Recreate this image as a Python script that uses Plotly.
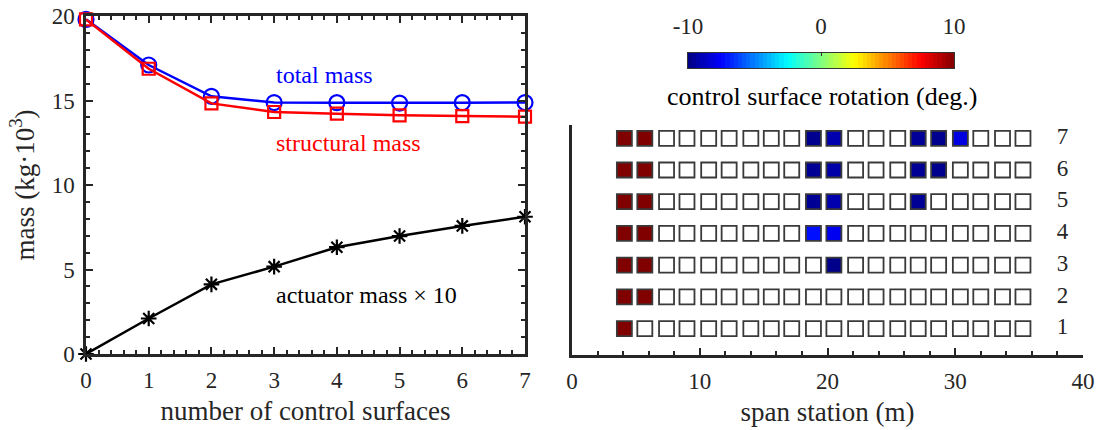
import numpy as np
import plotly.graph_objects as go

# ---------------- data ----------------
n_surfaces = [0, 1, 2, 3, 4, 5, 6, 7]
total_mass = [19.8, 17.1, 15.25, 14.88, 14.87, 14.85, 14.87, 14.88]
structural_mass = [19.8, 16.88, 14.83, 14.32, 14.22, 14.12, 14.08, 14.04]
actuator_mass_x10 = [0.0, 2.1, 4.12, 5.17, 6.32, 6.98, 7.58, 8.12]

span_stations = [4.1, 5.7, 7.4, 9.0, 10.7, 12.3, 14.0, 15.6, 17.2, 18.9,
                 20.5, 22.2, 23.8, 25.5, 27.1, 28.7, 30.4, 32.0, 33.7, 35.3]
rows = [1, 2, 3, 4, 5, 6, 7]
# control surface rotation (deg.) per row; None = no control surface
N = None
rotation = {
    1: [10, N, N, N, N, N, N, N, N, N, N, N, N, N, N, N, N, N, N, N],
    2: [10, 10, N, N, N, N, N, N, N, N, N, N, N, N, N, N, N, N, N, N],
    3: [10, 10, N, N, N, N, N, N, N, N, -9.8, N, N, N, N, N, N, N, N, N],
    4: [10, 10, N, N, N, N, N, N, N, -7.2, -7.8, N, N, N, N, N, N, N, N, N],
    5: [10, 10, N, N, N, N, N, N, N, -9.6, -9.1, N, N, N, -9.6, N, N, N, N, N],
    6: [10, 10, N, N, N, N, N, N, N, -9.6, -9.2, N, N, N, -9.6, -9.7, N, N, N, N],
    7: [10, 10, N, N, N, N, N, N, N, -9.7, -9.1, N, N, N, -9.5, -9.7, -8.1, N, N, N],
}
cbar_ticks = [-10, 0, 10]
CMIN, CMAX = -10, 10

jet = [[0.0, '#000080'], [0.125, '#0000ff'], [0.375, '#00ffff'],
       [0.625, '#ffff00'], [0.875, '#ff0000'], [1.0, '#800000']]

FONT = '"Liberation Serif", "Times New Roman", "DejaVu Serif", serif'
AX = '#262626'

fig = go.Figure()

# ---------------- left panel ----------------
fig.add_trace(go.Scatter(
    x=n_surfaces, y=total_mass, mode='lines+markers', cliponaxis=False,
    line=dict(color='#0000ff', width=2.5),
    marker=dict(symbol='circle-open', size=15, color='#0000ff', line=dict(width=2.2)),
    xaxis='x', yaxis='y', showlegend=False))
fig.add_trace(go.Scatter(
    x=n_surfaces, y=structural_mass, mode='lines+markers', cliponaxis=False,
    line=dict(color='#ff0000', width=2.5),
    marker=dict(symbol='square-open', size=12, color='#ff0000', line=dict(width=2.2)),
    xaxis='x', yaxis='y', showlegend=False))
fig.add_trace(go.Scatter(
    x=n_surfaces, y=actuator_mass_x10, mode='lines+markers', cliponaxis=False,
    line=dict(color='#000000', width=2.5),
    marker=dict(symbol='asterisk-open', size=13, color='#000000', line=dict(width=2.2, color='#000000')),
    xaxis='x', yaxis='y', showlegend=False))

# ---------------- right panel ----------------
ex, ey, cx, cy, cv = [], [], [], [], []
for r in rows:
    for s, v in zip(span_stations, rotation[r]):
        if v is None:
            ex.append(s); ey.append(r)
        else:
            cx.append(s); cy.append(r); cv.append(v)

fig.add_trace(go.Scatter(
    x=ex, y=ey, mode='markers', cliponaxis=False,
    marker=dict(symbol='square', size=15, color='white', line=dict(color='#3a3a3a', width=1.8)),
    xaxis='x2', yaxis='y2', showlegend=False, hoverinfo='skip'))
fig.add_trace(go.Scatter(
    x=cx, y=cy, mode='markers', cliponaxis=False,
    marker=dict(symbol='square', size=15, color=cv, colorscale=jet, cmin=CMIN, cmax=CMAX,
                showscale=False, line=dict(color='#3a3a3a', width=1.8)),
    xaxis='x2', yaxis='y2', showlegend=False))
fig.add_trace(go.Scatter(
    x=[38.4] * len(rows), y=rows, mode='text', text=[str(r) for r in rows],
    textfont=dict(family=FONT, size=23, color='#262626'), cliponaxis=False,
    xaxis='x2', yaxis='y2', showlegend=False, hoverinfo='skip'))

# ---------------- colour bar ----------------
ncol = 64
edges = np.linspace(CMIN, CMAX, ncol + 1)
centers = (edges[:-1] + edges[1:]) / 2
fig.add_trace(go.Heatmap(
    z=[centers.tolist()], x=centers.tolist(), y=[0], colorscale=jet, zmin=CMIN, zmax=CMAX,
    showscale=False, xaxis='x3', yaxis='y3', hoverinfo='skip'))

tickfont = dict(family=FONT, size=23, color='#262626')
titlefont = dict(family=FONT, size=27, color='#262626')

fig.update_layout(
    width=1097, height=430,
    margin=dict(l=0, r=0, t=0, b=0, autoexpand=False),
    paper_bgcolor='white', plot_bgcolor='white',
    font=dict(family=FONT, color='#262626'),
    xaxis=dict(domain=[86 / 1097, 525 / 1097], anchor='y', range=[0, 7], dtick=1, automargin=False,
               showgrid=False, zeroline=False, showline=True, linecolor=AX, linewidth=2.5,
               mirror='allticks', ticks='inside', ticklen=7, tickwidth=2, tickcolor=AX,
               minor=dict(ticks='inside', ticklen=4, dtick=0.2, tickwidth=2, tickcolor=AX, showgrid=False),
               tickfont=tickfont, ticklabelstandoff=4,
               title=dict(text='number of control surfaces', font=titlefont, standoff=9)),
    yaxis=dict(domain=[(430 - 354) / 430, (430 - 16) / 430], anchor='x', range=[0, 20], dtick=5,
               automargin=False,
               showgrid=False, zeroline=False, showline=True, linecolor=AX, linewidth=2.5,
               mirror='allticks', ticks='inside', ticklen=7, tickwidth=2, tickcolor=AX,
               minor=dict(ticks='inside', ticklen=4, dtick=1, tickwidth=2, tickcolor=AX, showgrid=False),
               tickfont=tickfont, ticklabelstandoff=4,
               title=dict(text='mass (kg·10<sup>3</sup>)', font=titlefont, standoff=10)),
    xaxis2=dict(domain=[572 / 1097, 1083 / 1097], anchor='y2', range=[0, 40], dtick=10, automargin=False,
                showgrid=False, zeroline=False, showline=True, linecolor=AX, linewidth=2.5,
                ticks='inside', ticklen=7, tickwidth=2, tickcolor=AX,
                minor=dict(ticks='inside', ticklen=4, dtick=2, tickwidth=2, tickcolor=AX, showgrid=False),
                tickfont=tickfont, ticklabelstandoff=4,
                title=dict(text='span station (m)', font=titlefont, standoff=9)),
    yaxis2=dict(domain=[(430 - 355) / 430, (430 - 125) / 430], anchor='x2', range=[0.165, 7.42],
                automargin=False,
                showgrid=False, zeroline=False, showline=True, linecolor=AX, linewidth=2.5,
                ticks='', showticklabels=False),
    xaxis3=dict(domain=[688 / 1097, 954 / 1097], anchor='y3', range=[CMIN, CMAX], side='top',
                automargin=False,
                tickvals=cbar_ticks, ticktext=[str(t) for t in cbar_ticks],
                showgrid=False, zeroline=False, showline=True, mirror=True, linecolor='#333333', linewidth=1,
                ticks='inside', ticklen=3, tickcolor='#333333',
                tickfont=dict(family=FONT, size=23, color='#262626'), ticklabelstandoff=9),
    yaxis3=dict(domain=[(430 - 68) / 430, (430 - 53) / 430], anchor='x3', range=[-0.5, 0.5],
                automargin=False,
                showgrid=False, zeroline=False, showline=True, mirror=True, linecolor='#333333', linewidth=1,
                ticks='', showticklabels=False),
    annotations=[
        dict(text='total mass', x=3.0, y=16.5, xref='x', yref='y', xanchor='left', yanchor='middle',
             showarrow=False, font=dict(family=FONT, size=24, color='#0000ff')),
        dict(text='structural mass', x=3.0, y=12.5, xref='x', yref='y', xanchor='left', yanchor='middle',
             showarrow=False, font=dict(family=FONT, size=24, color='#ff0000')),
        dict(text='actuator mass × 10', x=3.0, y=3.49, xref='x', yref='y', xanchor='left', yanchor='middle',
             showarrow=False, font=dict(family=FONT, size=24, color='#000000')),
        dict(text='control surface rotation (deg.)', x=822 / 1097, y=(430 - 96) / 430,
             xref='paper', yref='paper', xanchor='center', yanchor='middle',
             showarrow=False, font=dict(family=FONT, size=26, color='#000000')),
    ],
)

fig.write_html('out.html')
